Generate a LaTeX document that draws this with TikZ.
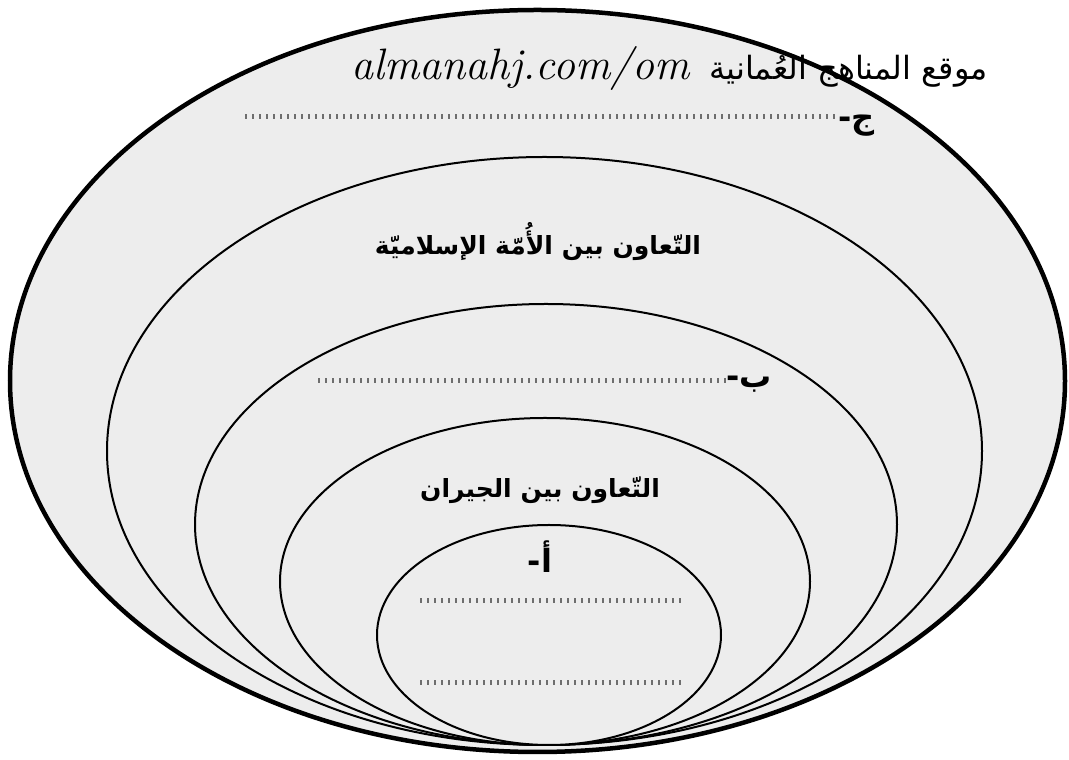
\documentclass[tikz,border=0pt]{standalone}
\usepackage{fontspec}
\TeXXeTstate=1
\newfontfamily\arabicfont[Script=Arabic]{DejaVu Sans}
\definecolor{ringfill}{HTML}{EDEDED}
\definecolor{dotgray}{HTML}{6E6E6E}
\tikzset{
  ring/.style={draw=black,fill=ringfill,line width=2pt},
  blank/.style={dotgray,line width=5pt,dash pattern=on 2pt off 5pt},
  lbl/.style={font=\arabicfont\bfseries\fontsize{25}{30}\selectfont,inner sep=0pt},
  letter/.style={lbl,font=\arabicfont\bfseries\fontsize{32}{36}\selectfont},
}

\begin{document}
\begin{tikzpicture}[x=1pt,y=1pt]
\useasboundingbox[fill=white] (0,0) rectangle (1069,760);
% nested circles of cooperation
\draw[ring,line width=4.5pt] (537.5,379) ellipse [x radius=527.5,y radius=371];
\draw[ring] (544.5,309) ellipse [x radius=437.5,y radius=294];
\draw[ring] (546,235.5) ellipse [x radius=351,y radius=220.5];
\draw[ring] (545,178.5) ellipse [x radius=265,y radius=163.5];
\draw[ring] (549,125) ellipse [x radius=172,y radius=110];
% header
\node[font=\arabicfont\fontsize{32}{36}\selectfont,anchor=base east,inner sep=0pt] (site) at (988,680) {\beginR موقع المناهج العُمانية\endR};
\node[font=\itshape\fontsize{44}{48}\selectfont,anchor=base east,inner sep=0pt] (url) at (690,680) {almanahj.com/om};
% outer ring
\node[letter,anchor=base west] (jim) at (838,631) {\beginR ج-\endR};
\coordinate (jimEnd) at (245,643);
\draw[blank] (jimEnd) -- (jimEnd -| jim.west);
\node[lbl] (umma) at (538,518) {\beginR التّعاون بين الأُمّة الإسلاميّة\endR};
% middle ring
\node[letter,anchor=base west] (ba) at (726,372) {\beginR ب-\endR};
\coordinate (baEnd) at (318,379);
\draw[blank] (baEnd) -- (baEnd -| ba.west);
\node[lbl] (jiran) at (540,270) {\beginR التّعاون بين الجيران\endR};
% inner ring
\node[letter] (alif) at (540,203) {\beginR أ-\endR};
\coordinate (aTopL) at (420,159);
\coordinate (aTopR) at (682,159);
\coordinate (aBotL) at (420,77);
\coordinate (aBotR) at (682,77);
\draw[blank] (aTopL) -- (aTopR);
\draw[blank] (aBotL) -- (aBotR);
\end{tikzpicture}
\end{document}
